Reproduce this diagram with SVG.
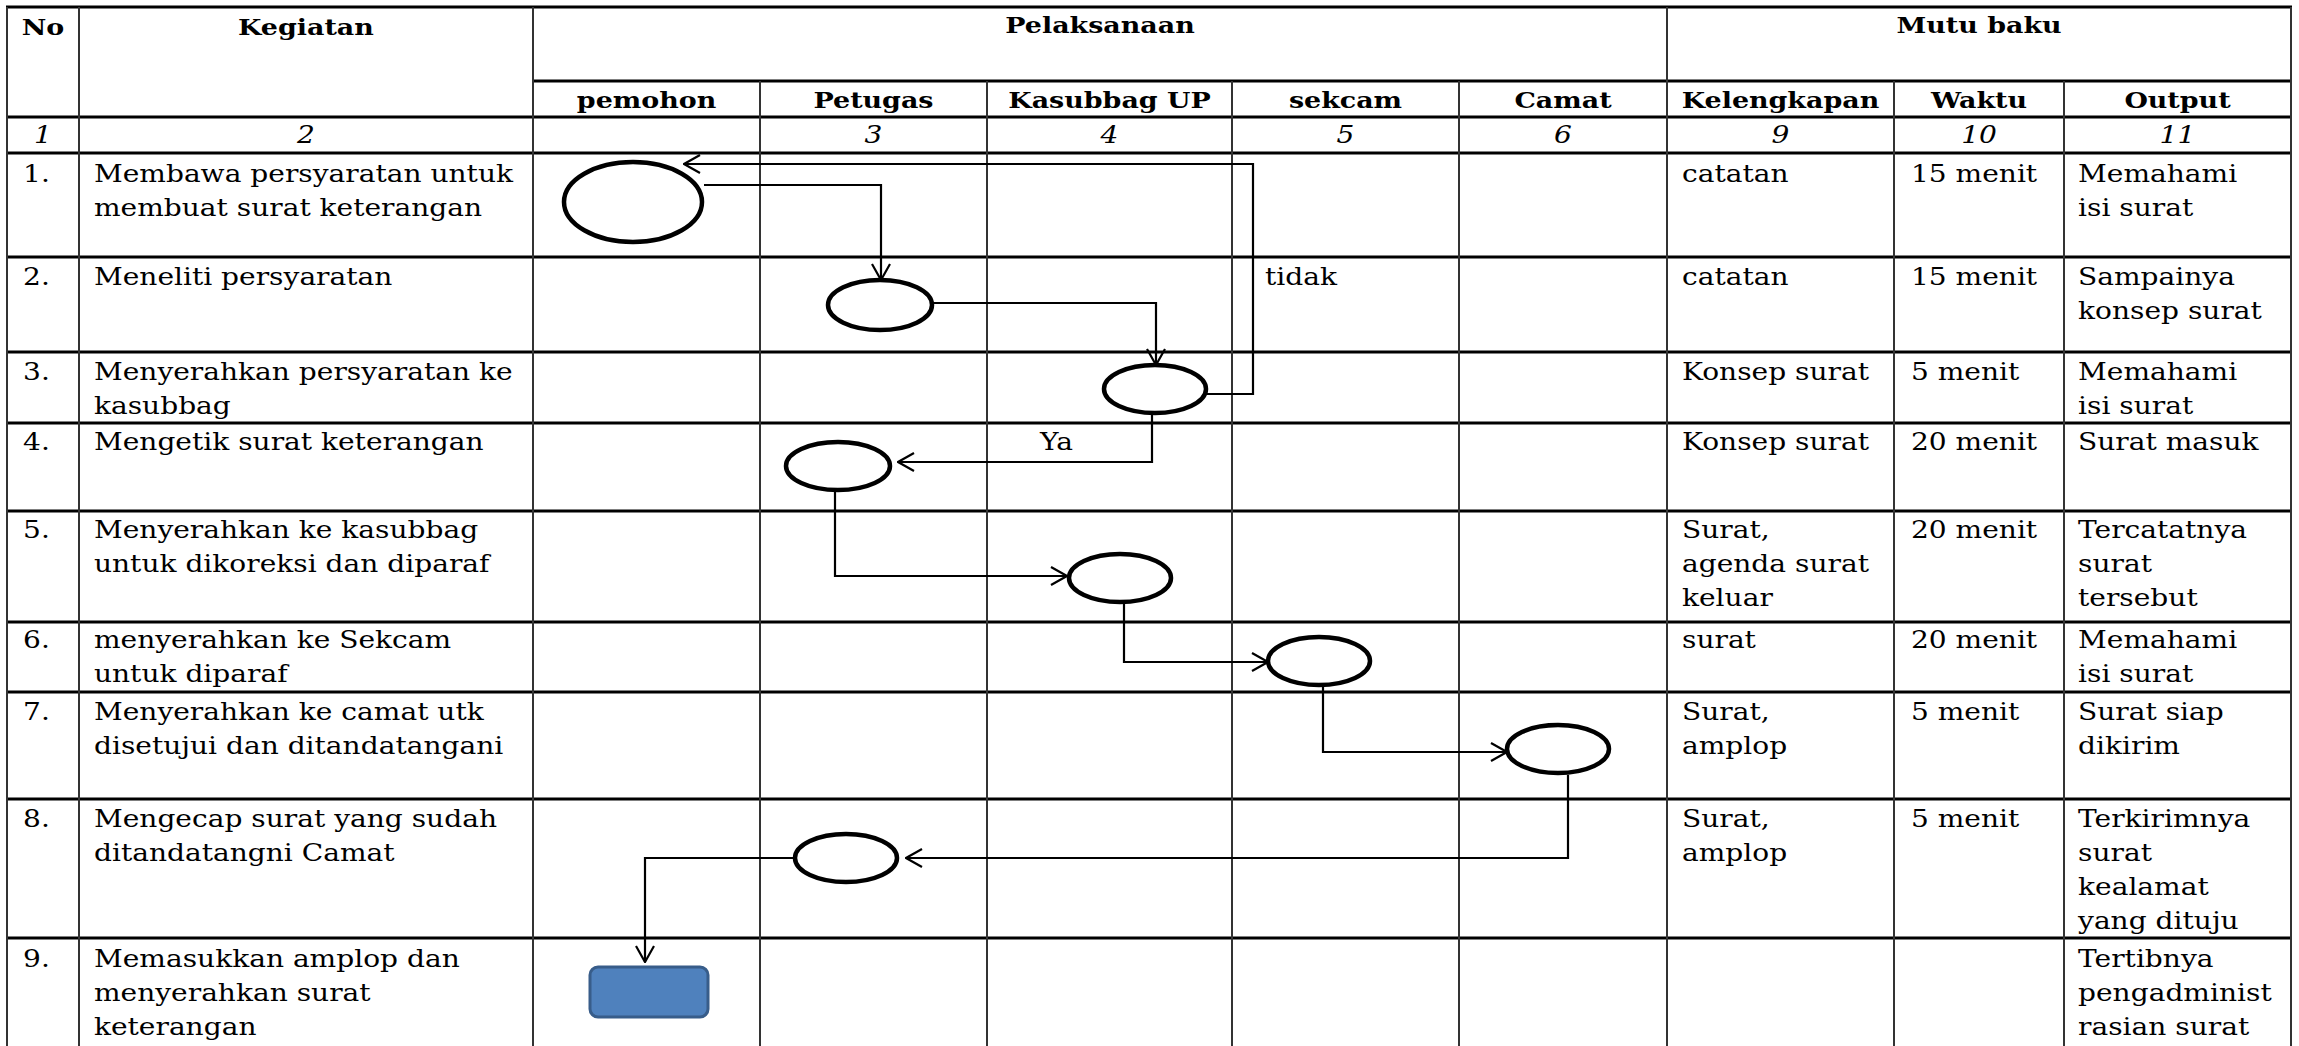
<svg xmlns="http://www.w3.org/2000/svg" width="2299" height="1046" viewBox="0 0 2299 1046">
<style>
.t{font-family:"DejaVu Serif","Liberation Serif",serif;font-size:24px;fill:#000}
.h{font-weight:bold;font-size:23px;text-anchor:middle}
.n{font-style:italic;text-anchor:middle}
.gh{stroke:#000;stroke-width:3}
.gv{stroke:#333;stroke-width:2}
.node{fill:#fff;stroke:#000;stroke-width:4.5}
.conn{fill:none;stroke:#000;stroke-width:2.2;marker-end:url(#arr)}
</style>
<defs>
<marker id="arr" viewBox="0 0 18 20" refX="17" refY="10" markerWidth="18" markerHeight="20" markerUnits="userSpaceOnUse" orient="auto">
<path d="M1,1 L17,10 L1,19" fill="none" stroke="#000" stroke-width="2.2"/>
</marker>
</defs>
<rect width="2299" height="1046" fill="#fff"/>
<g id="table-grid">
<line class="gh" x1="6" y1="7" x2="2292" y2="7"/>
<line class="gh" x1="533" y1="81" x2="2292" y2="81"/>
<line class="gh" x1="6" y1="117" x2="2292" y2="117"/>
<line class="gh" x1="6" y1="153" x2="2292" y2="153"/>
<line class="gh" x1="6" y1="257" x2="2292" y2="257"/>
<line class="gh" x1="6" y1="352" x2="2292" y2="352"/>
<line class="gh" x1="6" y1="423" x2="2292" y2="423"/>
<line class="gh" x1="6" y1="511" x2="2292" y2="511"/>
<line class="gh" x1="6" y1="622" x2="2292" y2="622"/>
<line class="gh" x1="6" y1="692" x2="2292" y2="692"/>
<line class="gh" x1="6" y1="799" x2="2292" y2="799"/>
<line class="gh" x1="6" y1="938" x2="2292" y2="938"/>
<line class="gv" x1="7" y1="7" x2="7" y2="1046"/>
<line class="gv" x1="79" y1="7" x2="79" y2="1046"/>
<line class="gv" x1="533" y1="7" x2="533" y2="1046"/>
<line class="gv" x1="760" y1="81" x2="760" y2="1046"/>
<line class="gv" x1="987" y1="81" x2="987" y2="1046"/>
<line class="gv" x1="1232" y1="81" x2="1232" y2="1046"/>
<line class="gv" x1="1459" y1="81" x2="1459" y2="1046"/>
<line class="gv" x1="1667" y1="7" x2="1667" y2="1046"/>
<line class="gv" x1="1894" y1="81" x2="1894" y2="1046"/>
<line class="gv" x1="2064" y1="81" x2="2064" y2="1046"/>
<line class="gv" x1="2291" y1="7" x2="2291" y2="1046"/>
</g>
<g id="table-text" class="t" transform="scale(1.17 1)">
<text class="h" x="36.8" y="35">No</text>
<text class="h" x="261.5" y="35">Kegiatan</text>
<text class="h" x="940.2" y="33">Pelaksanaan</text>
<text class="h" x="1691.5" y="33">Mutu baku</text>
<text class="h" x="552.6" y="108">pemohon</text>
<text class="h" x="746.6" y="108">Petugas</text>
<text class="h" x="948.3" y="108">Kasubbag UP</text>
<text class="h" x="1150" y="108">sekcam</text>
<text class="h" x="1335.9" y="108">Camat</text>
<text class="h" x="1521.8" y="108">Kelengkapan</text>
<text class="h" x="1691.5" y="108">Waktu</text>
<text class="h" x="1861.1" y="108">Output</text>
<text class="n" x="36.8" y="143">1</text>
<text class="n" x="261.5" y="143">2</text>
<text class="n" x="746.6" y="143">3</text>
<text class="n" x="948.3" y="143">4</text>
<text class="n" x="1150" y="143">5</text>
<text class="n" x="1335.9" y="143">6</text>
<text class="n" x="1521.8" y="143">9</text>
<text class="n" x="1691.5" y="143">10</text>
<text class="n" x="1861.1" y="143">11</text>

<text x="19.7" y="182">1.</text>
<text x="80.3" y="182">Membawa persyaratan untuk</text>
<text x="80.3" y="216">membuat surat keterangan</text>
<text x="1437.6" y="182">catatan</text>
<text x="1633.3" y="182">15 menit</text>
<text x="1776.1" y="182">Memahami</text>
<text x="1776.1" y="216">isi surat</text>

<text x="19.7" y="285">2.</text>
<text x="80.3" y="285">Meneliti persyaratan</text>
<text x="1437.6" y="285">catatan</text>
<text x="1633.3" y="285">15 menit</text>
<text x="1776.1" y="285">Sampainya</text>
<text x="1776.1" y="319">konsep surat</text>

<text x="19.7" y="380">3.</text>
<text x="80.3" y="380">Menyerahkan persyaratan ke</text>
<text x="80.3" y="414">kasubbag</text>
<text x="1437.6" y="380">Konsep surat</text>
<text x="1633.3" y="380">5 menit</text>
<text x="1776.1" y="380">Memahami</text>
<text x="1776.1" y="414">isi surat</text>

<text x="19.7" y="450">4.</text>
<text x="80.3" y="450">Mengetik surat keterangan</text>
<text x="1437.6" y="450">Konsep surat</text>
<text x="1633.3" y="450">20 menit</text>
<text x="1776.1" y="450">Surat masuk</text>

<text x="19.7" y="538">5.</text>
<text x="80.3" y="538">Menyerahkan ke kasubbag</text>
<text x="80.3" y="572">untuk dikoreksi dan diparaf</text>
<text x="1437.6" y="538">Surat,</text>
<text x="1437.6" y="572">agenda surat</text>
<text x="1437.6" y="606">keluar</text>
<text x="1633.3" y="538">20 menit</text>
<text x="1776.1" y="538">Tercatatnya</text>
<text x="1776.1" y="572">surat</text>
<text x="1776.1" y="606">tersebut</text>

<text x="19.7" y="648">6.</text>
<text x="80.3" y="648">menyerahkan ke Sekcam</text>
<text x="80.3" y="682">untuk diparaf</text>
<text x="1437.6" y="648">surat</text>
<text x="1633.3" y="648">20 menit</text>
<text x="1776.1" y="648">Memahami</text>
<text x="1776.1" y="682">isi surat</text>

<text x="19.7" y="720">7.</text>
<text x="80.3" y="720">Menyerahkan ke camat utk</text>
<text x="80.3" y="754">disetujui dan ditandatangani</text>
<text x="1437.6" y="720">Surat,</text>
<text x="1437.6" y="754">amplop</text>
<text x="1633.3" y="720">5 menit</text>
<text x="1776.1" y="720">Surat siap</text>
<text x="1776.1" y="754">dikirim</text>

<text x="19.7" y="827">8.</text>
<text x="80.3" y="827">Mengecap surat yang sudah</text>
<text x="80.3" y="861">ditandatangni Camat</text>
<text x="1437.6" y="827">Surat,</text>
<text x="1437.6" y="861">amplop</text>
<text x="1633.3" y="827">5 menit</text>
<text x="1776.1" y="827">Terkirimnya</text>
<text x="1776.1" y="861">surat</text>
<text x="1776.1" y="895">kealamat</text>
<text x="1776.1" y="929">yang dituju</text>

<text x="19.7" y="967">9.</text>
<text x="80.3" y="967">Memasukkan amplop dan</text>
<text x="80.3" y="1001">menyerahkan surat</text>
<text x="80.3" y="1035">keterangan</text>
<text x="1776.1" y="967">Tertibnya</text>
<text x="1776.1" y="1001">pengadminist</text>
<text x="1776.1" y="1035">rasian surat</text>
</g>
<g id="connectors">
<path class="conn" d="M704,185 H881 V280"/>
<path class="conn" d="M921,303 H1156 V365"/>
<path class="conn" d="M1206,394 H1253 V164 H684"/>
<path class="conn" d="M1152,413 V462 H898"/>
<path class="conn" d="M835,491 V576 H1067"/>
<path class="conn" d="M1124,602 V662 H1268"/>
<path class="conn" d="M1323,685 V752 H1507"/>
<path class="conn" d="M1568,775 V858 H906"/>
<path class="conn" d="M795,858 H645 V962"/>
<g class="t" transform="scale(1.17 1)">
<text x="1081.2" y="285">tidak</text>
<text x="888.9" y="450">Ya</text>
</g>
</g>
<g id="node-1-pemohon"><ellipse class="node" cx="633" cy="202" rx="69" ry="40"/></g>
<g id="node-2-petugas"><ellipse class="node" cx="880" cy="305" rx="52" ry="25"/></g>
<g id="node-3-kasubbag"><ellipse class="node" cx="1155" cy="389" rx="51" ry="24"/></g>
<g id="node-4-petugas"><ellipse class="node" cx="838" cy="466" rx="52" ry="24"/></g>
<g id="node-5-kasubbag"><ellipse class="node" cx="1120" cy="578" rx="51" ry="24"/></g>
<g id="node-6-sekcam"><ellipse class="node" cx="1319" cy="661" rx="51" ry="24"/></g>
<g id="node-7-camat"><ellipse class="node" cx="1558" cy="749" rx="51" ry="24"/></g>
<g id="node-8-petugas"><ellipse class="node" cx="846" cy="858" rx="51" ry="24"/></g>
<g id="node-9-pemohon"><rect x="590" y="967" width="118" height="50" rx="8" fill="#4F81BD" stroke="#385D8A" stroke-width="3"/></g>
</svg>
